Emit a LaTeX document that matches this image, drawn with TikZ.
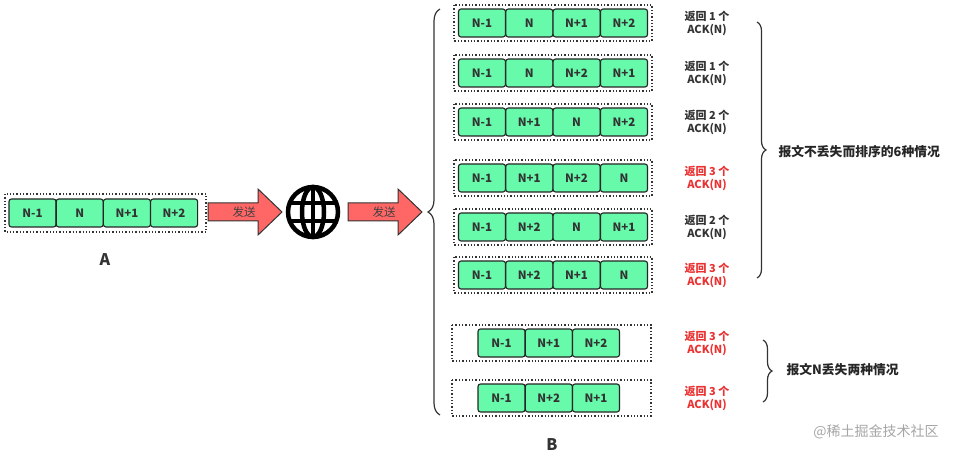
\documentclass[tikz,border=0pt]{standalone}
\usepackage{fontspec}
\setmainfont{Noto Sans CJK SC}
\usetikzlibrary{decorations.pathreplacing,calc}
\definecolor{pkt}{RGB}{102,250,170}
\definecolor{arr}{RGB}{255,102,102}
\definecolor{redt}{RGB}{235,50,50}
\tikzset{
 cell/.style={draw=black!85,line width=1.1pt,fill=pkt,rounded corners=2.5pt,minimum height=28pt,inner sep=0pt,font=\fontsize{11.5}{11.5}\selectfont\bfseries,text=black!80},
 grp/.style={draw=black!80,line width=1.3pt,dotted},
 ack/.style={align=center,font=\bfseries\fontsize{11}{13}\selectfont,text=black!80},
 ackr/.style={ack,text=redt},
 brc/.style={decorate,decoration={brace,amplitude=9pt},line width=1.2pt,black!80},
 big/.style={font=\bfseries\fontsize{12.8}{13}\selectfont,text=black!85},
 sendarrow/.style={draw=black!80,line width=1pt,fill=arr},
}
\begin{document}
\begin{tikzpicture}[x=1pt,y=-1pt]
\useasboundingbox[fill=white] (0,0) rectangle (972,457);
% left group
\draw[grp] (5,194) rectangle (206,232);
\foreach \i/\t [count=\k] in {0/N-1,1/N,2/N+1,3/N+2}
  \node[cell,minimum width=47pt] (a\k) at (32.5+47.2*\i,213) {\t};
\node[font=\bfseries\fontsize{16}{16}\selectfont,text=black!80] (A) at (105,260) {A};
% arrows
\foreach \x/\n in {208/ar1,348/ar2}{
 \draw[sendarrow] (\x,203) -- ++(50,0) -- ++(0,-14) -- ++(24,23) -- ++(-24,23) -- ++(0,-14) -- ++(-50,0) -- cycle;
 \node[font=\fontsize{11.5}{11.5}\selectfont,text=black!75] (\n) at (\x+36,212) {发送};
}
% globe
\node[circle,minimum size=54pt,inner sep=0pt] (g) at (313,212) {};
\draw[line width=4.5pt] (g.center) circle (25);
\draw[line width=4.5pt] (g.center) ellipse (11 and 25);
\draw[line width=4.5pt] ($(g.center)+(0,-25)$) -- ++(0,50);
\draw[line width=4.5pt] ($(g.center)+(-23,-9)$) -- ++(46,0);
\draw[line width=4.5pt] ($(g.center)+(-23,9)$) -- ++(46,0);
% big brace
\draw[brc,decoration={amplitude=12pt,mirror}] (440,9) -- (440,415);
% rows
\foreach \y/\a/\b/\c/\d/\n/\s [count=\r] in {
 23/N-1/N/N+1/N+2/1/ack, 73/N-1/N/N+2/N+1/1/ack, 122/N-1/N+1/N/N+2/2/ack,
 178/N-1/N+1/N+2/N/3/ackr, 227/N-1/N+2/N/N+1/2/ack, 275/N-1/N+2/N+1/N/3/ackr}{
 \draw[grp] (454,\y-18) rectangle (652,\y+18);
 \node[cell,minimum width=47pt] (r\r a) at (482,\y) {\a};
 \node[cell,minimum width=47pt] (r\r b) at (529.3,\y) {\b};
 \node[cell,minimum width=47pt] (r\r c) at (576.6,\y) {\c};
 \node[cell,minimum width=47pt] (r\r d) at (624,\y) {\d};
 \node[\s] (l\r) at (707,\y) {返回 \n\ 个\\ACK(N)};
}
\foreach \y/\a/\b/\c [count=\r from 7] in {343/N-1/N+1/N+2, 398/N-1/N+2/N+1}{
 \draw[grp] (452,\y-18) rectangle (651,\y+18);
 \node[cell,minimum width=47pt] (r\r a) at (501.5,\y) {\a};
 \node[cell,minimum width=47pt] (r\r b) at (548.8,\y) {\b};
 \node[cell,minimum width=47pt] (r\r c) at (596,\y) {\c};
 \node[ackr] (l\r) at (707,\y) {返回 3 个\\ACK(N)};
}
\draw[brc] (757,22) -- (757,278);
\node[big,anchor=west] (t1) at (775,152) {报文不丢失而排序的6种情况};
\draw[brc] (763,340) -- (763,402);
\node[big,anchor=west] (t2) at (783,370) {报文N丢失两种情况};
\node[font=\bfseries\fontsize{16}{16}\selectfont,text=black!80] (B) at (552,445) {B};
\node[font=\fontsize{14}{14}\selectfont,text=black!35] (wm) at (876,432) {@稀土掘金技术社区};
\end{tikzpicture}
\end{document}
